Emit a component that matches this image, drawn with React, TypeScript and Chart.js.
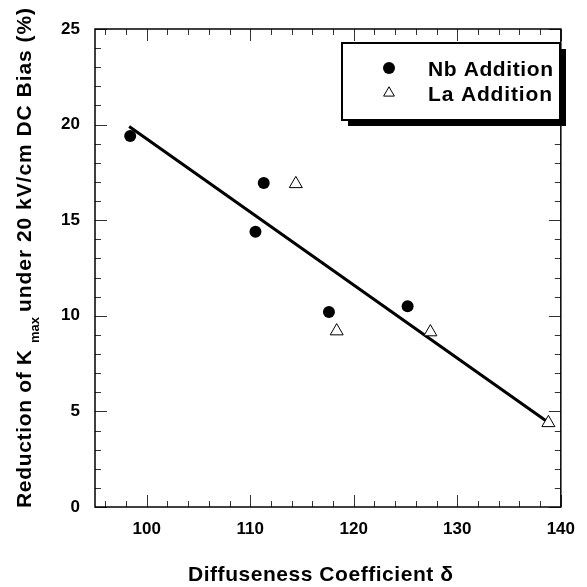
import React, { useEffect, useRef } from "react";
import { Chart, registerables } from "chart.js";

Chart.register(...registerables);

// ---- data ----
const nbLabel = "Nb Addition";
const nbX = [98.4, 111.3, 110.5, 117.6, 125.2];
const nbY = [19.4, 16.95, 14.4, 10.2, 10.5];

const laLabel = "La Addition";
const laX = [114.4, 118.35, 127.4, 138.8];
const laY = [16.9, 9.2, 9.15, 4.4];

const fitX = [98.3, 138.6];
const fitY = [19.9, 4.5];

const xMajorTicks = [100, 110, 120, 130, 140];
const xMinorTicks = [96, 98, 102, 104, 106, 108, 112, 114, 116, 118, 122, 124, 126, 128, 132, 134, 136, 138];
const yMajorTicks = [0, 5, 10, 15, 20, 25];
const yMinorTicks = [1, 2, 3, 4, 6, 7, 8, 9, 11, 12, 13, 14, 16, 17, 18, 19, 21, 22, 23, 24];

const xTitle = "Diffuseness Coefficient \u03b4";
const yTitleA = "Reduction of K";
const yTitleSub = "max";
const yTitleB = "under 20 kV/cm DC Bias (%)";

const FONT = '"Liberation Sans", Arial, Helvetica, sans-serif';

function fillSpaced(ctx: CanvasRenderingContext2D, text: string, x: number, y: number, target: number) {
  (ctx as any).letterSpacing = "0px";
  const w = ctx.measureText(text).width;
  const n = Array.from(text).length;
  const s = n > 1 ? Math.max(0, (target - w) / (n - 1)) : 0;
  (ctx as any).letterSpacing = s.toFixed(2) + "px";
  ctx.fillText(text, x, y);
  (ctx as any).letterSpacing = "0px";
}

const frameTicks = {
  id: "frameTicks",
  beforeDatasetsDraw(chart: any) {
    const { ctx, chartArea: a, scales } = chart;
    const xs = scales.x;
    const ys = scales.y;
    ctx.save();
    ctx.strokeStyle = "#333";
    ctx.lineWidth = 1;
    const drawX = (vals: number[], len: number) => {
      vals.forEach((v) => {
        const p = Math.round(xs.getPixelForValue(v)) + 0.5;
        ctx.beginPath();
        ctx.moveTo(p, a.bottom);
        ctx.lineTo(p, a.bottom - len);
        ctx.moveTo(p, a.top);
        ctx.lineTo(p, a.top + len);
        ctx.stroke();
      });
    };
    const drawY = (vals: number[], len: number) => {
      vals.forEach((v) => {
        const p = Math.round(ys.getPixelForValue(v)) + 0.5;
        ctx.beginPath();
        ctx.moveTo(a.left, p);
        ctx.lineTo(a.left + len, p);
        ctx.moveTo(a.right, p);
        ctx.lineTo(a.right - len, p);
        ctx.stroke();
      });
    };
    drawX(xMajorTicks, 12);
    drawX(xMinorTicks, 6);
    drawY(yMajorTicks, 12);
    drawY(yMinorTicks, 6);
    ctx.strokeStyle = "#000";
    ctx.lineWidth = 1.5;
    ctx.strokeRect(a.left, a.top, a.right - a.left, a.bottom - a.top);
    ctx.restore();
  },
};

const titlesLegend = {
  id: "titlesLegend",
  afterDraw(chart: any) {
    const { ctx } = chart;
    ctx.save();
    ctx.fillStyle = "#000";
    ctx.textBaseline = "alphabetic";
    ctx.textAlign = "left";

    // x title
    ctx.font = `bold 21px ${FONT}`;
    fillSpaced(ctx, xTitle, 188, 581, 265);

    // y title (rotated, with subscript)
    ctx.save();
    ctx.translate(31, 508);
    ctx.rotate(-Math.PI / 2);
    ctx.font = `bold 21px ${FONT}`;
    fillSpaced(ctx, yTitleA, 0, 0, 158);
    ctx.font = `bold 13px ${FONT}`;
    fillSpaced(ctx, yTitleSub, 165, 8, 24);
    ctx.font = `bold 21px ${FONT}`;
    fillSpaced(ctx, yTitleB, 196, 0, 304);
    ctx.restore();

    // legend box with shadow
    const bx = 342, by = 43, bw = 218, bh = 77;
    ctx.fillStyle = "#000";
    ctx.fillRect(bx + 6, by + 6, bw, bh);
    ctx.fillStyle = "#fff";
    ctx.fillRect(bx, by, bw, bh);
    ctx.strokeStyle = "#000";
    ctx.lineWidth = 2;
    ctx.strokeRect(bx, by, bw, bh);

    const ds = chart.data.datasets;
    // Nb marker
    ctx.fillStyle = "#000";
    ctx.beginPath();
    ctx.arc(389, 68, 6, 0, Math.PI * 2);
    ctx.fill();
    // La marker (triangle)
    const r = 6.2, tx = 389, ty = 93;
    ctx.beginPath();
    ctx.moveTo(tx, ty - r);
    ctx.lineTo(tx + 0.866 * r, ty + 0.5 * r);
    ctx.lineTo(tx - 0.866 * r, ty + 0.5 * r);
    ctx.closePath();
    ctx.fillStyle = "#fff";
    ctx.fill();
    ctx.strokeStyle = "#000";
    ctx.lineWidth = 1;
    ctx.stroke();

    ctx.fillStyle = "#000";
    ctx.font = `bold 21px ${FONT}`;
    fillSpaced(ctx, ds[0].label, 428, 76, 125);
    fillSpaced(ctx, ds[1].label, 428, 101, 124);
    ctx.restore();
  },
};

export default function App() {
  const ref = useRef<HTMLCanvasElement | null>(null);
  useEffect(() => {
    if (!ref.current) return;
    const chart = new Chart(ref.current, {
      type: "scatter",
      data: {
        datasets: [
          {
            label: nbLabel,
            data: nbX.map((x, i) => ({ x, y: nbY[i] })),
            pointStyle: "circle",
            pointRadius: 6,
            pointHoverRadius: 6,
            backgroundColor: "#000",
            borderColor: "#000",
            borderWidth: 0,
            order: 2,
          },
          {
            label: laLabel,
            data: laX.map((x, i) => ({ x, y: laY[i] })),
            pointStyle: "triangle",
            pointRadius: 7.5,
            pointHoverRadius: 7.5,
            backgroundColor: "#fff",
            borderColor: "#000",
            borderWidth: 1,
            order: 1,
          },
          {
            label: "fit",
            data: fitX.map((x, i) => ({ x, y: fitY[i] })),
            showLine: true,
            pointRadius: 0,
            pointHoverRadius: 0,
            borderColor: "#000",
            borderWidth: 3,
            fill: false,
            order: 3,
          } as any,
        ],
      },
      options: {
        animation: false,
        responsive: false,
        events: [],
        layout: { padding: { top: 29, right: 17, left: 0, bottom: 0 } },
        plugins: {
          legend: { display: false },
          tooltip: { enabled: false },
        },
        scales: {
          x: {
            type: "linear",
            min: 95,
            max: 140,
            grid: { display: false, drawTicks: false },
            border: { display: false },
            afterFit: (s: any) => {
              s.height = 80;
            },
            afterBuildTicks: (s: any) => {
              s.ticks = xMajorTicks.map((v) => ({ value: v }));
            },
            ticks: {
              color: "#000",
              padding: 12,
              maxRotation: 0,
              font: { family: FONT, size: 17, weight: "bold" },
            },
          },
          y: {
            type: "linear",
            min: 0,
            max: 25,
            grid: { display: false, drawTicks: false },
            border: { display: false },
            afterFit: (s: any) => {
              s.width = 95;
            },
            afterBuildTicks: (s: any) => {
              s.ticks = yMajorTicks.map((v) => ({ value: v }));
            },
            ticks: {
              color: "#000",
              padding: 15,
              font: { family: FONT, size: 17, weight: "bold" },
            },
          },
        },
      } as any,
      plugins: [frameTicks, titlesLegend],
    });
    return () => chart.destroy();
  }, []);
  return (
    <div style={{ position: "absolute", left: 0, top: 0, width: 587, height: 587, background: "#fff" }}>
      <canvas ref={ref} width={587} height={587} style={{ width: 587, height: 587, display: "block" }} />
    </div>
  );
}
